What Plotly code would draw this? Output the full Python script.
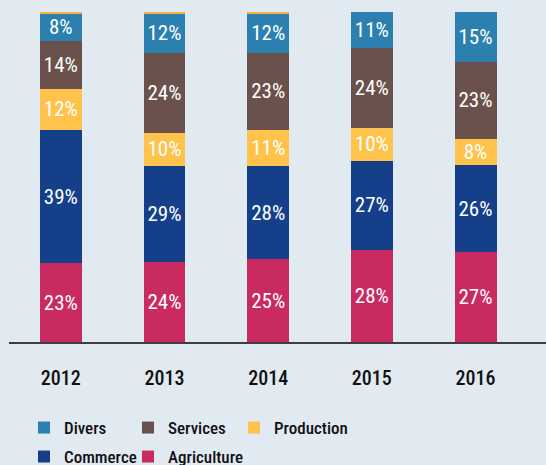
import plotly.graph_objects as go

years = ["2012", "2013", "2014", "2015", "2016"]
agriculture = [23, 24, 25, 28, 27]
commerce = [39, 29, 28, 27, 26]
production = [12, 10, 11, 10, 8]
services = [14, 24, 23, 24, 23]
divers = [8, 12, 12, 11, 15]
residual = [0.4, 0.4, 0.4, 0, 0]

colors = {
    "Agriculture": "#c92a5f",
    "Commerce": "#163f8a",
    "Production": "#ffc24b",
    "Services": "#6b514c",
    "Divers": "#2b80b0",
}

FONT = "Roboto Condensed, Liberation Sans Narrow, Roboto, sans-serif"
W, H = 546, 465

# legend placement (pixels, from top-left): (left, row-centre)
legend_pos = {
    "Divers": ("legend", 24, 428),
    "Services": ("legend2", 128, 428),
    "Production": ("legend3", 234, 428),
    "Commerce": ("legend4", 24, 457),
    "Agriculture": ("legend5", 128, 457),
}

fig = go.Figure()
series = [
    ("Agriculture", agriculture),
    ("Commerce", commerce),
    ("Production", production),
    ("Services", services),
    ("Divers", divers),
]
for name, vals in series:
    fig.add_trace(go.Bar(
        x=years, y=vals, name=name,
        marker=dict(color=colors[name], line=dict(width=0)),
        text=[f"{v}%" for v in vals], textposition="inside",
        insidetextanchor="middle", textangle=0, constraintext="none",
        textfont=dict(color="white", size=21, family=FONT),
        legend=legend_pos[name][0], hoverinfo="skip",
    ))
fig.add_trace(go.Bar(
    x=years, y=residual, name="", showlegend=False,
    marker=dict(color="#f4b23c", line=dict(width=0)), hoverinfo="skip",
))

legends = {}
for name, (lg, lx, ly) in legend_pos.items():
    legends[lg] = dict(
        orientation="h", xref="container", yref="container",
        x=lx / W, xanchor="left", y=(H - ly) / H, yanchor="middle",
        font=dict(size=17, family=FONT, color="#111111", weight=500),
        bgcolor="rgba(0,0,0,0)", itemclick=False, itemdoubleclick=False,
    )

fig.update_layout(
    width=W, height=H,
    barmode="stack", barnorm="percent", bargap=0.595,
    paper_bgcolor="#e1e9f1", plot_bgcolor="#e1e9f1",
    margin=dict(l=9, r=0, t=12, b=123),
    uniformtext=dict(mode=False),
    font=dict(family=FONT, color="#111111"),
    hovermode=False,
    xaxis=dict(range=[-0.5, 4.68], showgrid=False, zeroline=False,
               showline=True, linecolor="#3a3f44", linewidth=2,
               ticks="outside", ticklen=17, tickcolor="rgba(0,0,0,0)",
               tickfont=dict(size=20, family=FONT, color="#111111", weight=500)),
    yaxis=dict(range=[0, 100], visible=False, showgrid=False, zeroline=False),
    **legends,
)

fig.write_html(
    "out.html",
    config={"displayModeBar": False},
    post_script="document.body.style.margin='0';document.body.style.background='#e1e9f1';",
)
